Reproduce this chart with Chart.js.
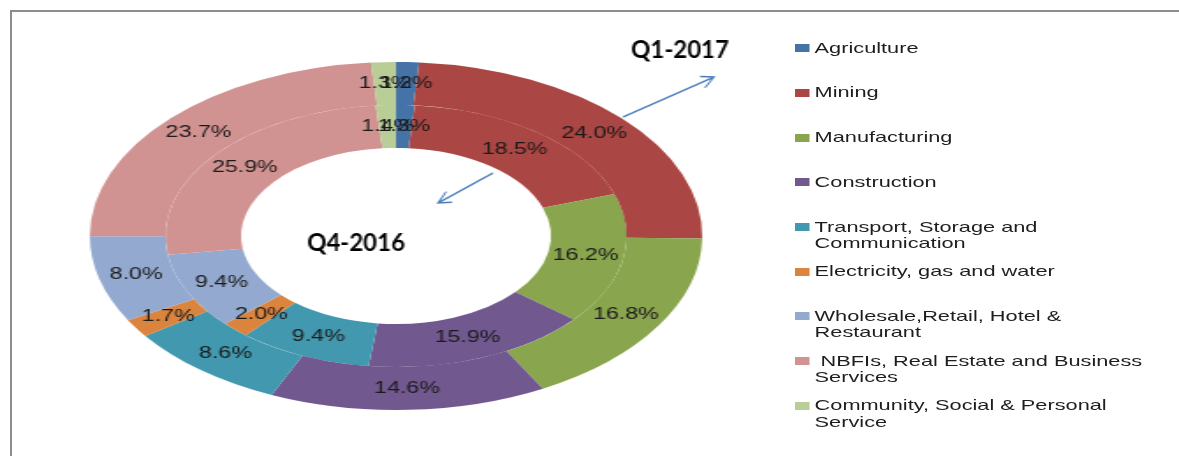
<!DOCTYPE html>
<html>
<head>
<meta charset="utf-8">
<script src="https://cdn.jsdelivr.net/npm/chart.js@4.4.0/dist/chart.umd.min.js"></script>
<style>
  html, body { margin: 0; padding: 0; background: #fff; }
  body { width: 1179px; height: 456px; position: relative; overflow: hidden; font-family: "Liberation Sans", Arial, sans-serif; }
  #frame { position: absolute; left: 10px; top: 10px; right: -5px; bottom: -5px; border-top: 2px solid #8d8d8d; border-left: 2px solid #8d8d8d; }
  #ring { position: absolute; left: 0; top: 0; transform: scaleX(1.76); transform-origin: 0 0; }
  #legend { position: absolute; left: 795px; top: 0; width: 260px; transform: scaleX(1.45); transform-origin: 0 0; }
  .item { position: absolute; left: 0; display: flex; font-size: 15px; line-height: 16.5px; color: #1e1e1e; }
  .box { width: 10px; height: 8px; margin-top: 4.5px; margin-right: 3.5px; flex: none; }
  .txt { white-space: pre; }
</style>
</head>
<body>
<div id="frame"></div>
<canvas id="ring" width="443" height="456"></canvas>
<div id="legend"></div>
<script>
// sectors, in the order they go round the ring (from 12 o'clock, clockwise)
const categories = [
	"Agriculture",
	"Mining",
	"Manufacturing",
	"Construction",
	["Transport, Storage and", "Communication"],
	"Electricity, gas and water",
	["Wholesale,Retail, Hotel &", "Restaurant"],
	[" NBFIs, Real Estate and Business", "Services"],
	["Community, Social & Personal", "Service"],
];
// shares in percent
const q1_2017 = [1.2, 24.0, 16.8, 14.6, 8.6, 1.7, 8.0, 23.7, 1.3];
const q4_2016 = [1.3, 18.5, 16.2, 15.9, 9.4, 2.0, 9.4, 25.9, 1.4];
const colours = ["#4572A7", "#AA4643", "#89A54E", "#71588F", "#4198AF", "#DB843D", "#93A9CF", "#D19392", "#B9CD96"];

const S = 1.76; // the ring canvas is stretched sideways by this much (CSS)
const K = 1.45; // text is only stretched this much

// draws the % labels in the middle of each ring piece, plus the Q labels and arrows
const ringLabels = {
	id: "ringLabels",
	afterDatasetsDraw(chart) {
		const ctx = chart.ctx;
		chart.data.datasets.forEach((ds, di) => {
			chart.getDatasetMeta(di).data.forEach((arc, i) => {
				const p = arc.getProps(["x", "y", "startAngle", "endAngle", "innerRadius", "outerRadius"], true);
				const a = (p.startAngle + p.endAngle) / 2;
				const r = (p.innerRadius + p.outerRadius) / 2;
				ctx.save();
				ctx.translate(p.x + Math.cos(a) * r, p.y + Math.sin(a) * r);
				ctx.scale(K / S, 1);
				ctx.font = '16px "Liberation Sans", Arial, sans-serif';
				ctx.fillStyle = "#1a1a1a";
				ctx.textAlign = "center";
				ctx.textBaseline = "middle";
				ctx.fillText(ds.data[i].toFixed(1) + "%", 0, 0);
				ctx.restore();
			});
		});

		// from here on, page pixels
		ctx.save();
		ctx.scale(1 / S, 1);
		ctx.font = 'bold 24px Lato, "Open Sans", sans-serif';
		ctx.fillStyle = "#000";
		ctx.textAlign = "center";
		ctx.textBaseline = "middle";
		ctx.fillText(chart.data.datasets[0].label, 680, 50);
		ctx.fillText(chart.data.datasets[1].label, 356, 243);

		ctx.strokeStyle = "#4a7ebb";
		ctx.lineWidth = 1.5;
		arrow(ctx, 623, 117, 714, 77);
		arrow(ctx, 493, 173, 438, 203);
		ctx.restore();
	},
};

function arrow(ctx, x1, y1, x2, y2) {
	const ang = Math.atan2(y1 - y2, x1 - x2);
	const len = 14;
	ctx.beginPath();
	ctx.moveTo(x1, y1);
	ctx.lineTo(x2, y2);
	ctx.moveTo(x2 + Math.cos(ang + 0.45) * len, y2 + Math.sin(ang + 0.45) * len);
	ctx.lineTo(x2, y2);
	ctx.lineTo(x2 + Math.cos(ang - 0.45) * len, y2 + Math.sin(ang - 0.45) * len);
	ctx.stroke();
}

const ctx = document.getElementById("ring").getContext("2d");
let myChart = new Chart(ctx, {
	type: "doughnut",
	data: {
		labels: categories,
		datasets: [
			{ label: "Q1-2017", data: q1_2017, backgroundColor: colours, borderWidth: 0, hoverOffset: 0 },
			{ label: "Q4-2016", data: q4_2016, backgroundColor: colours, borderWidth: 0, hoverOffset: 0 },
		],
	},
	options: {
		responsive: false,
		animation: false,
		cutout: "50.6%",
		layout: { padding: { left: 51, right: 44, top: 62, bottom: 46 } },
		plugins: {
			legend: { display: false },
			tooltip: { enabled: false },
		},
	},
	plugins: [ringLabels],
});

// legend on the right, built from the same arrays
const legend = document.getElementById("legend");
categories.forEach((c, i) => {
	const item = document.createElement("div");
	item.className = "item";
	item.style.top = (48 + i * 44.7 - 8.25) + "px";
	const box = document.createElement("div");
	box.className = "box";
	box.style.background = colours[i];
	const txt = document.createElement("div");
	txt.className = "txt";
	txt.textContent = Array.isArray(c) ? c.join("\n") : c;
	item.appendChild(box);
	item.appendChild(txt);
	legend.appendChild(item);
});
</script>
</body>
</html>
